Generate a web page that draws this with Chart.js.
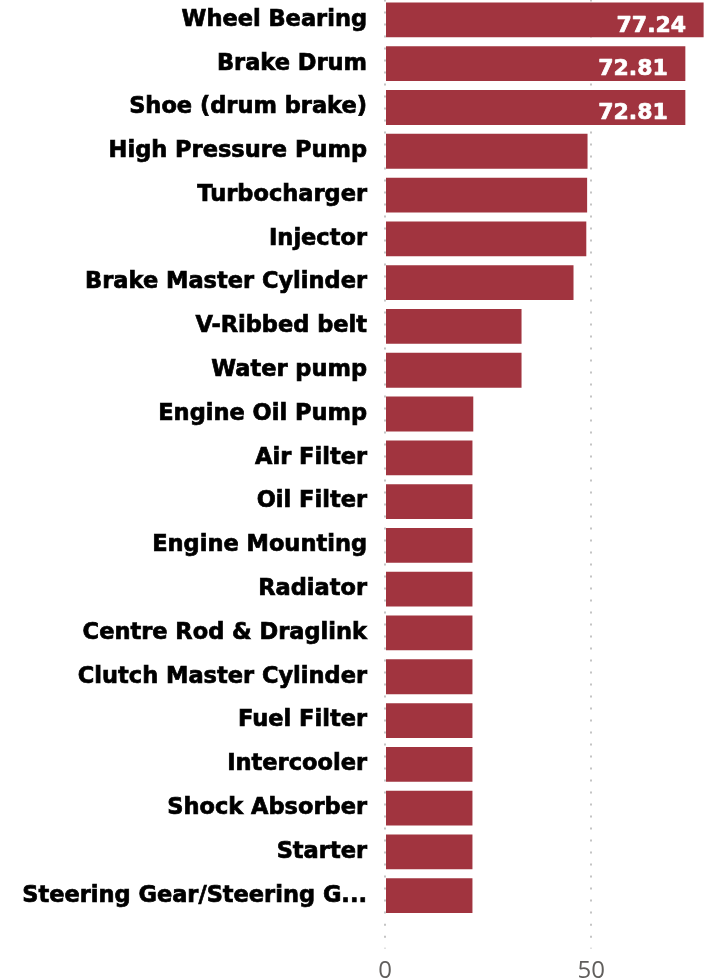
<!DOCTYPE html>
<html><head><meta charset="utf-8">
<script src="https://cdn.jsdelivr.net/npm/chart.js@4/dist/chart.umd.min.js"></script>
<style>
html,body{margin:0;padding:0;background:#fff;overflow:hidden;width:712px;height:980px;}
#wrap{position:absolute;left:0;top:-34px;width:715px;height:1014px;}
</style></head><body>
<div id="wrap"><canvas id="c" width="715" height="1014"></canvas></div>
<script>
const categories = [
  "Wheel Bearing", "Brake Drum", "Shoe (drum brake)", "High Pressure Pump",
  "Turbocharger", "Injector", "Brake Master Cylinder", "V-Ribbed belt",
  "Water pump", "Engine Oil Pump", "Air Filter", "Oil Filter",
  "Engine Mounting", "Radiator", "Centre Rod & Draglink", "Clutch Master Cylinder",
  "Fuel Filter", "Intercooler", "Shock Absorber", "Starter",
  "Steering Gear/Steering G..."
];
const values = [
  77.24, 72.81, 72.81, 49.1,
  49.0, 48.8, 45.7, 33.1,
  33.1, 21.4, 21.2, 21.2,
  21.2, 21.2, 21.2, 21.2,
  21.2, 21.2, 21.2, 21.2,
  21.2
];
const xTicks = [0, 50];
const xMax = 80;
const labelThreshold = 70;

const barColor = '#A1343F';
const labelFont = '"DejaVu Sans", sans-serif';

const valueLabels = {
  id: 'valueLabels',
  afterDatasetsDraw(chart) {
    const ctx = chart.ctx;
    const meta = chart.getDatasetMeta(0);
    ctx.save();
    ctx.font = 'bold 22px ' + labelFont;
    ctx.fillStyle = '#ffffff';
    ctx.strokeStyle = '#ffffff';
    ctx.lineWidth = 0.7;
    ctx.lineJoin = 'round';
    ctx.textAlign = 'right';
    ctx.textBaseline = 'alphabetic';
    meta.data.forEach((bar, i) => {
      if (values[i] < labelThreshold) return;
      const text = values[i].toFixed(2);
      ctx.strokeText(text, bar.x - 17.5, bar.y + 11.7);
      ctx.fillText(text, bar.x - 17.5, bar.y + 11.7);
    });
    ctx.restore();
  }
};

new Chart(document.getElementById('c'), {
  type: 'bar',
  data: {
    labels: categories,
    datasets: [{
      data: values,
      backgroundColor: barColor,
      borderWidth: 0,
      barPercentage: 1,
      categoryPercentage: 0.795
    }]
  },
  options: {
    indexAxis: 'y',
    responsive: false,
    animation: false,
    devicePixelRatio: 1,
    layout: { padding: 0 },
    plugins: { legend: { display: false }, tooltip: { enabled: false } },
    scales: {
      y: {
        grid: { display: false, drawTicks: false },
        border: { display: false },
        ticks: {
          autoSkip: false,
          padding: 18,
          color: '#000000',
          textStrokeColor: '#000000',
          textStrokeWidth: 0.7,
          font: { family: labelFont, weight: 'bold', size: 22.5, lineHeight: '28px' }
        },
        afterFit(scale) { scale.width = 385; }
      },
      x: {
        min: 0,
        max: xMax,
        grid: {
          color: '#c4c4c4',
          lineWidth: 2,
          drawTicks: true,
          tickLength: 31,
          tickBorderDash: [2, 10],
          tickBorderDashOffset: 6.3
        },
        border: { display: false, dash: [2, 10], dashOffset: 10.5 },
        ticks: {
          padding: 8,
          color: '#605E5C',
          font: { family: '"Open Sans", sans-serif', size: 24 }
        },
        afterBuildTicks(scale) { scale.ticks = xTicks.map(v => ({ value: v })); },
        afterFit(scale) { scale.height = 62.4; }
      }
    }
  },
  plugins: [valueLabels]
});
</script>
</body></html>
